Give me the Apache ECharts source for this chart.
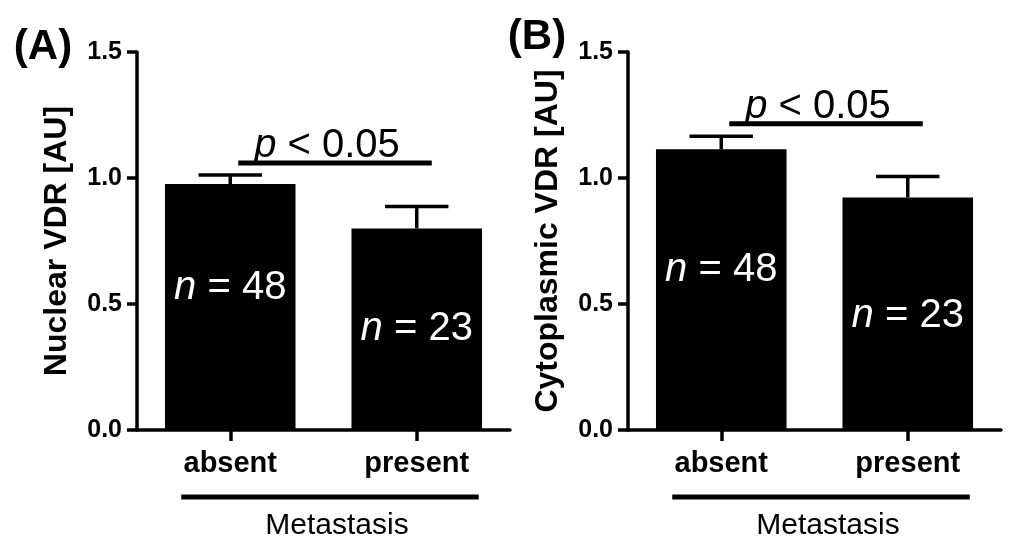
<!DOCTYPE html>
<html>
<head>
<meta charset="utf-8">
<script src="https://cdn.jsdelivr.net/npm/echarts@6/dist/echarts.min.js"></script>
<style>
html,body{margin:0;padding:0;background:#fff;}
#c{width:1024px;height:559px;}
</style>
</head>
<body>
<div id="c"></div>
<script>
var categories = ['absent', 'present'];
var nuclearMean = [0.976, 0.80];
var nuclearSEM = [0.036, 0.087];
var cytoMean = [1.114, 0.923];
var cytoSEM = [0.052, 0.083];
var nCounts = ['48', '23'];
var nuclearSig = 1.06;
var cytoSig = 1.215;
var yTicks = [0, 0.5, 1.0, 1.5];
var sigText = 'p < 0.05';
var groupTitle = 'Metastasis';

var FONT = "'Liberation Sans', Arial, sans-serif";
var chart = echarts.init(document.getElementById('c'));

function yAxis(gi, name) {
  return {
    type: 'value', gridIndex: gi, min: 0, max: 1.5, interval: 0.5,
    name: name, nameLocation: 'middle', nameGap: 64, nameRotate: 90,
    nameTextStyle: {fontFamily: FONT, fontWeight: 'bold', fontSize: 32, color: '#000'},
    axisLine: {show: true, lineStyle: {color: '#000', width: 3.5}},
    axisTick: {show: true, length: 10, lineStyle: {color: '#000', width: 3.5}},
    splitLine: {show: false},
    axisLabel: {fontFamily: FONT, fontWeight: 'bold', fontSize: 25, color: '#000', margin: 15,
      formatter: function (v) { return v.toFixed(1); }}
  };
}
function xAxis(gi) {
  return {
    type: 'category', gridIndex: gi, data: categories,
    axisLine: {show: true, lineStyle: {color: '#000', width: 3.5}},
    axisTick: {show: true, alignWithLabel: true, length: 11, lineStyle: {color: '#000', width: 3.5}},
    axisLabel: {fontFamily: FONT, fontWeight: 'bold', fontSize: 29, color: '#000', margin: 19}
  };
}
function barData(means, offs) {
  return means.map(function (v, i) {
    return {value: v, label: {offset: [0, offs[i]], formatter: '{i|n} = ' + nCounts[i]}};
  });
}
function errSeries(gi, means, sems) {
  return {
    type: 'custom', xAxisIndex: gi, yAxisIndex: gi, z: 5,
    data: means.map(function (v, i) { return [i, v, sems[i]]; }),
    renderItem: function (params, api) {
      var x = api.value(0), m = api.value(1), e = api.value(2);
      var base = api.coord([x, m]);
      var top = api.coord([x, m + e]);
      var half = api.size([1, 0])[0] * 0.17;
      var st = {stroke: '#000', lineWidth: 3.5};
      return {type: 'group', children: [
        {type: 'line', shape: {x1: base[0], y1: base[1], x2: top[0], y2: top[1]}, style: st},
        {type: 'line', shape: {x1: top[0] - half, y1: top[1], x2: top[0] + half, y2: top[1]}, style: st}
      ]};
    }
  };
}
function sigSeries(gi, level) {
  return {
    type: 'custom', xAxisIndex: gi, yAxisIndex: gi, z: 6,
    data: [[0, level]],
    renderItem: function (params, api) {
      var y = api.value(1);
      var a = api.coord([0, y]);
      var b = api.coord([1, y]);
      var x1 = a[0] + 8, x2 = b[0] + 15;
      return {type: 'group', children: [
        {type: 'line', shape: {x1: x1, y1: a[1], x2: x2, y2: a[1]}, style: {stroke: '#000', lineWidth: 5}},
        {type: 'text', x: (x1 + x2) / 2 - 8, y: a[1] + 3,
          style: {text: '{i|p} < 0.05', rich: {i: {fontStyle: 'italic', fontSize: 40, fontFamily: FONT, fill: '#000'}},
            fontSize: 40, fontFamily: FONT, fill: '#000', align: 'center', verticalAlign: 'bottom'}}
      ]};
    }
  };
}
var barLabel = {
  show: true, position: 'inside', color: '#fff', fontFamily: FONT, fontSize: 40,
  rich: {i: {fontStyle: 'italic', color: '#fff', fontFamily: FONT, fontSize: 40}}
};

chart.setOption({
  animation: false,
  grid: [
    {left: 137, top: 52, width: 373, height: 378},
    {left: 628, top: 52, width: 373, height: 378}
  ],
  xAxis: [xAxis(0), xAxis(1)],
  yAxis: [yAxis(0, 'Nuclear VDR [AU]'), yAxis(1, 'Cytoplasmic VDR [AU]')],
  series: [
    {type: 'bar', xAxisIndex: 0, yAxisIndex: 0, barWidth: '70%', itemStyle: {color: '#000'},
      label: barLabel, data: barData(nuclearMean, [-19, 0])},
    {type: 'bar', xAxisIndex: 1, yAxisIndex: 1, barWidth: '70%', itemStyle: {color: '#000'},
      label: barLabel, data: barData(cytoMean, [-20, 2])},
    errSeries(0, nuclearMean, nuclearSEM),
    errSeries(1, cytoMean, cytoSEM),
    sigSeries(0, nuclearSig),
    sigSeries(1, cytoSig)
  ]
});

function groupGraphics(gi) {
  var a = chart.convertToPixel({xAxisIndex: gi}, categories[0]);
  var b = chart.convertToPixel({xAxisIndex: gi}, categories[1]);
  var y0 = chart.convertToPixel({yAxisIndex: gi}, 0);
  var x1 = a - 49, x2 = b + 62, ly = y0 + 67;
  return [
    {type: 'line', shape: {x1: x1, y1: ly, x2: x2, y2: ly}, style: {stroke: '#000', lineWidth: 5}},
    {type: 'text', x: (x1 + x2) / 2 + 7, y: ly + 29,
      style: {text: groupTitle, fontFamily: FONT, fontSize: 30, fill: '#000', align: 'center', verticalAlign: 'middle'}}
  ];
}
var g = groupGraphics(0).concat(groupGraphics(1));
g.push({type: 'text', x: 43, y: 47, style: {text: '(A)', fontFamily: FONT, fontWeight: 'bold', fontSize: 42, fill: '#000', align: 'center', verticalAlign: 'middle'}});
g.push({type: 'text', x: 537, y: 37, style: {text: '(B)', fontFamily: FONT, fontWeight: 'bold', fontSize: 42, fill: '#000', align: 'center', verticalAlign: 'middle'}});
chart.setOption({graphic: g});
</script>
</body>
</html>
